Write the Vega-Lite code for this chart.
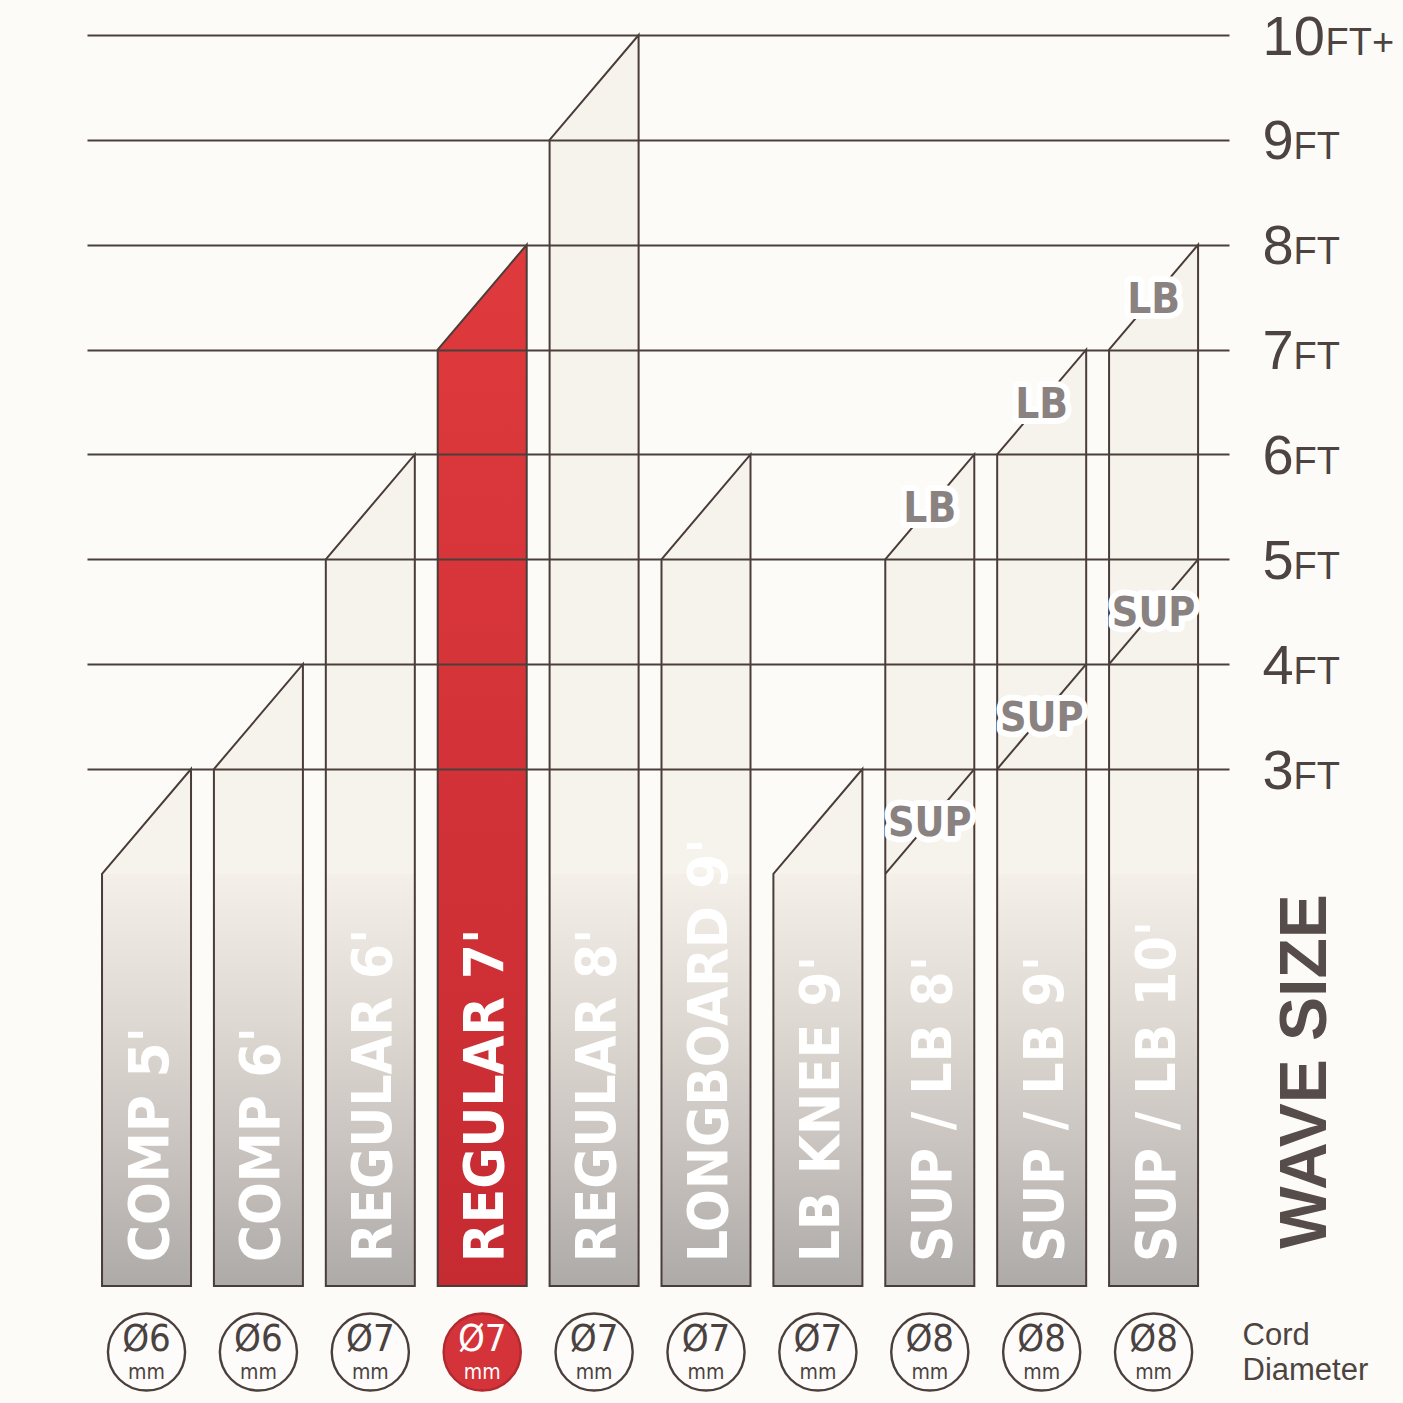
{
  "$schema": "https://vega.github.io/schema/vega-lite/v6.json",
  "background": "#fcfbf8",
  "padding": {"left": 87, "top": 0, "right": 20, "bottom": 10},
  "config": {"view": {"stroke": null}, "font": "Liberation Sans"},
  "datasets": {
    "leashes": [
      {"name": "COMP 5'", "min": 2, "max": 3, "cord": 6},
      {"name": "COMP 6'", "min": 3, "max": 4, "cord": 6},
      {"name": "REGULAR 6'", "min": 5, "max": 6, "cord": 7},
      {"name": "REGULAR 7'", "min": 7, "max": 8, "cord": 7},
      {"name": "REGULAR 8'", "min": 9, "max": 10, "cord": 7},
      {"name": "LONGBOARD 9'", "min": 5, "max": 6, "cord": 7},
      {"name": "LB KNEE 9'", "min": 2, "max": 3, "cord": 7},
      {"name": "SUP / LB 8'", "min": 5, "max": 6, "cord": 8},
      {"name": "SUP / LB 9'", "min": 6, "max": 7, "cord": 8},
      {"name": "SUP / LB 10'", "min": 7, "max": 8, "cord": 8}
    ],
    "sup": [
      {"name": "SUP / LB 8'", "min": 2, "max": 3},
      {"name": "SUP / LB 9'", "min": 3, "max": 4},
      {"name": "SUP / LB 10'", "min": 4, "max": 5}
    ]
  },
  "spacing": 21,
  "bounds": "flush",
  "resolve": {"scale": {"xOffset": "independent"}},
  "vconcat": [
    {
      "width": 1142,
      "height": 1286,
      "encoding": {
        "x": {
          "field": "name", "type": "nominal",
          "scale": {"type": "band", "domain": ["COMP 5'", "COMP 6'", "REGULAR 6'", "REGULAR 7'", "REGULAR 8'", "LONGBOARD 9'", "LB KNEE 9'", "SUP / LB 8'", "SUP / LB 9'", "SUP / LB 10'"], "paddingInner": 0.2046, "paddingOuter": 0.2053, "align": 0.327},
          "axis": null
        }
      },
      "resolve": {"axis": {"y": "independent"}},
      "layer": [
        {
          "data": {"name": "leashes"},
          "transform": [{"fold": ["min", "max"], "as": ["edge", "ft"]}],
          "mark": {"type": "area", "interpolate": "linear"},
          "encoding": {
            "xOffset": {"field": "edge", "type": "nominal", "scale": {"type": "point", "domain": ["min", "max"], "padding": 0}},
            "y": {
              "field": "ft", "type": "quantitative", "stack": null,
              "scale": {"domain": [-1.93, 10.334], "nice": false, "zero": false},
              "axis": {
                "orient": "right", "values": [3, 4, 5, 6, 7, 8, 9, 10], "format": "d",
                "grid": true, "gridColor": "#4a3f3b", "gridWidth": 1.8, "gridOpacity": 1, "zindex": 1,
                "ticks": false, "domain": false,
                "labelFont": "Liberation Sans", "labelFontSize": 56, "labelColor": "#4d4442",
                "labelAlign": "left", "labelBaseline": "alphabetic", "labelOffset": 19, "labelPadding": 33,
                "labelFlush": false, "labelOverlap": false,
                "title": "WAVE SIZE", "titleAngle": 270, "titleFont": "Liberation Sans", "titleFontWeight": "bold",
                "titleFontSize": 66, "titleColor": "#564c49", "titleX": 76, "titleY": 1071,
                "titleAlign": "center", "titleBaseline": "middle"
              }
            },
            "y2": {"datum": -1.93},
            "detail": {"field": "name", "type": "nominal"},
            "fill": {
              "condition": {"test": "datum.name === \"REGULAR 7'\"", "value": {"gradient": "linear", "x1": 0, "y1": 0, "x2": 0, "y2": 1, "stops": [{"offset": 0, "color": "#df3a3e"}, {"offset": 1, "color": "#c62b31"}]}},
              "value": "#f6f2ec"
            }
          }
        },
        {
          "data": {"name": "leashes"},
          "transform": [{"filter": "datum.name !== \"REGULAR 7'\""}, {"fold": ["min", "max"], "as": ["edge", "ft"]}],
          "mark": {"type": "area", "interpolate": "linear", "fill": {"gradient": "linear", "x1": 0, "y1": 0, "x2": 0, "y2": 1, "stops": [{"offset": 0, "color": "#f4efe9"}, {"offset": 0.35, "color": "#dfd9d3"}, {"offset": 0.7, "color": "#c6c1bd"}, {"offset": 1, "color": "#aeaaa7"}]}},
          "encoding": {
            "xOffset": {"field": "edge", "type": "nominal"},
            "y": {"datum": 2, "type": "quantitative", "axis": null},
            "y2": {"datum": -1.93},
            "detail": {"field": "name", "type": "nominal"}
          }
        },
        {
          "data": {"name": "leashes"},
          "transform": [{"fold": ["min", "max"], "as": ["edge", "ft"]}],
          "mark": {"type": "area", "interpolate": "linear", "fillOpacity": 0, "stroke": "#4a3d39", "strokeWidth": 2, "strokeJoin": "miter"},
          "encoding": {
            "xOffset": {"field": "edge", "type": "nominal"},
            "y": {
              "field": "ft", "type": "quantitative", "stack": null,
              "axis": {
                "orient": "right", "values": [3, 4, 5, 6, 7, 8, 9], "grid": false, "ticks": false, "domain": false,
                "labelFont": "Liberation Sans", "labelFontSize": 38, "labelColor": "#4d4442",
                "labelAlign": "left", "labelBaseline": "alphabetic", "labelOffset": 19, "labelPadding": 64,
                "labelFlush": false, "labelOverlap": false,
                "labelExpr": "'FT'",
                "title": null
              }
            },
            "y2": {"datum": -1.93},
            "detail": {"field": "name", "type": "nominal"}
          }
        },
        {
          "data": {"name": "sup"},
          "transform": [{"fold": ["min", "max"], "as": ["edge", "ft"]}],
          "mark": {"type": "line", "stroke": "#4a3d39", "strokeWidth": 2},
          "encoding": {
            "xOffset": {"field": "edge", "type": "nominal"},
            "y": {
              "field": "ft", "type": "quantitative",
              "axis": {
                "orient": "right", "values": [10], "grid": false, "ticks": false, "domain": false,
                "labelFont": "Liberation Sans", "labelFontSize": 38, "labelColor": "#4d4442",
                "labelAlign": "left", "labelBaseline": "alphabetic", "labelOffset": 19, "labelPadding": 96,
                "labelFlush": false, "labelOverlap": false,
                "labelExpr": "'FT+'",
                "title": null
              }
            },
            "detail": {"field": "name", "type": "nominal"}
          }
        },
        {
          "data": {"name": "leashes"},
          "transform": [{"filter": "datum.name === \"SUP / LB 8'\" || datum.name === \"SUP / LB 9'\" || datum.name === \"SUP / LB 10'\""}],
          "mark": {"type": "text", "text": "LB", "font": "'DejaVu Sans Condensed', 'DejaVu Sans', sans-serif", "fontWeight": "bold", "fontSize": 42, "baseline": "middle", "align": "center", "dy": 55, "fill": "#ffffff", "stroke": "#ffffff", "strokeWidth": 12, "strokeJoin": "round"},
          "encoding": {"y": {"field": "max", "type": "quantitative", "axis": null}}
        },
        {
          "data": {"name": "leashes"},
          "transform": [{"filter": "datum.name === \"SUP / LB 8'\" || datum.name === \"SUP / LB 9'\" || datum.name === \"SUP / LB 10'\""}],
          "mark": {"type": "text", "text": "LB", "font": "'DejaVu Sans Condensed', 'DejaVu Sans', sans-serif", "fontWeight": "bold", "fontSize": 42, "baseline": "middle", "align": "center", "dy": 55, "fill": "#8a8280"},
          "encoding": {"y": {"field": "max", "type": "quantitative", "axis": null}}
        },
        {
          "data": {"name": "sup"},
          "mark": {"type": "text", "text": "SUP", "font": "'DejaVu Sans Condensed', 'DejaVu Sans', sans-serif", "fontWeight": "bold", "fontSize": 41, "baseline": "middle", "align": "center", "dy": 55, "fill": "#ffffff", "stroke": "#ffffff", "strokeWidth": 12, "strokeJoin": "round"},
          "encoding": {"y": {"field": "max", "type": "quantitative", "axis": null}}
        },
        {
          "data": {"name": "sup"},
          "mark": {"type": "text", "text": "SUP", "font": "'DejaVu Sans Condensed', 'DejaVu Sans', sans-serif", "fontWeight": "bold", "fontSize": 41, "baseline": "middle", "align": "center", "dy": 55, "fill": "#8a8280"},
          "encoding": {"y": {"field": "max", "type": "quantitative", "axis": null}}
        },
        {
          "data": {"name": "leashes"},
          "mark": {"type": "text", "angle": 270, "align": "left", "baseline": "middle", "dx": 24, "dy": 4, "font": "'DejaVu Sans Condensed', 'DejaVu Sans', sans-serif", "fontWeight": "bold", "fontSize": 56, "fill": "#ffffff"},
          "encoding": {
            "y": {"datum": -1.93, "type": "quantitative", "axis": null},
            "text": {"field": "name", "type": "nominal"}
          }
        }
      ]
    },
    {
      "width": 1142,
      "height": 90,
      "data": {"name": "leashes"},
      "encoding": {
        "x": {
          "field": "name", "type": "nominal",
          "scale": {"type": "band", "domain": ["COMP 5'", "COMP 6'", "REGULAR 6'", "REGULAR 7'", "REGULAR 8'", "LONGBOARD 9'", "LB KNEE 9'", "SUP / LB 8'", "SUP / LB 9'", "SUP / LB 10'"], "paddingInner": 0.2046, "paddingOuter": 0.2053, "align": 0.327},
          "axis": {
            "orient": "bottom", "labels": false, "ticks": false, "domain": false, "grid": false,
            "title": ["Cord", "Diameter"], "titleX": 1155, "titleY": -77, "titleAlign": "left", "titleBaseline": "top",
            "titleFont": "Liberation Sans", "titleFontSize": 31, "titleFontWeight": "normal", "titleColor": "#4d4441", "titleLineHeight": 35
          }
        }
      },
      "layer": [
        {
          "mark": {"type": "point", "shape": "circle", "filled": true, "size": 5950, "strokeWidth": 2.4, "opacity": 1},
          "encoding": {
            "fill": {"condition": {"test": "datum.name === \"REGULAR 7'\"", "value": "#d4333a"}, "value": "#fdfcfa"},
            "stroke": {"condition": {"test": "datum.name === \"REGULAR 7'\"", "value": "#b02a30"}, "value": "#4a3f3b"}
          }
        },
        {
          "mark": {"type": "text", "text": {"expr": "'Ø' + datum.cord"}, "font": "'DejaVu Sans Condensed', 'DejaVu Sans', sans-serif", "fontSize": 38, "baseline": "middle", "align": "center", "dy": -12},
          "encoding": {
            "fill": {"condition": {"test": "datum.name === \"REGULAR 7'\"", "value": "#ffffff"}, "value": "#4a4240"}
          }
        },
        {
          "mark": {"type": "text", "text": "mm", "font": "'DejaVu Sans Condensed', 'DejaVu Sans', sans-serif", "fontSize": 21, "baseline": "middle", "align": "center", "dy": 21},
          "encoding": {
            "fill": {"condition": {"test": "datum.name === \"REGULAR 7'\"", "value": "#ffffff"}, "value": "#4a4240"}
          }
        }
      ]
    }
  ]
}
